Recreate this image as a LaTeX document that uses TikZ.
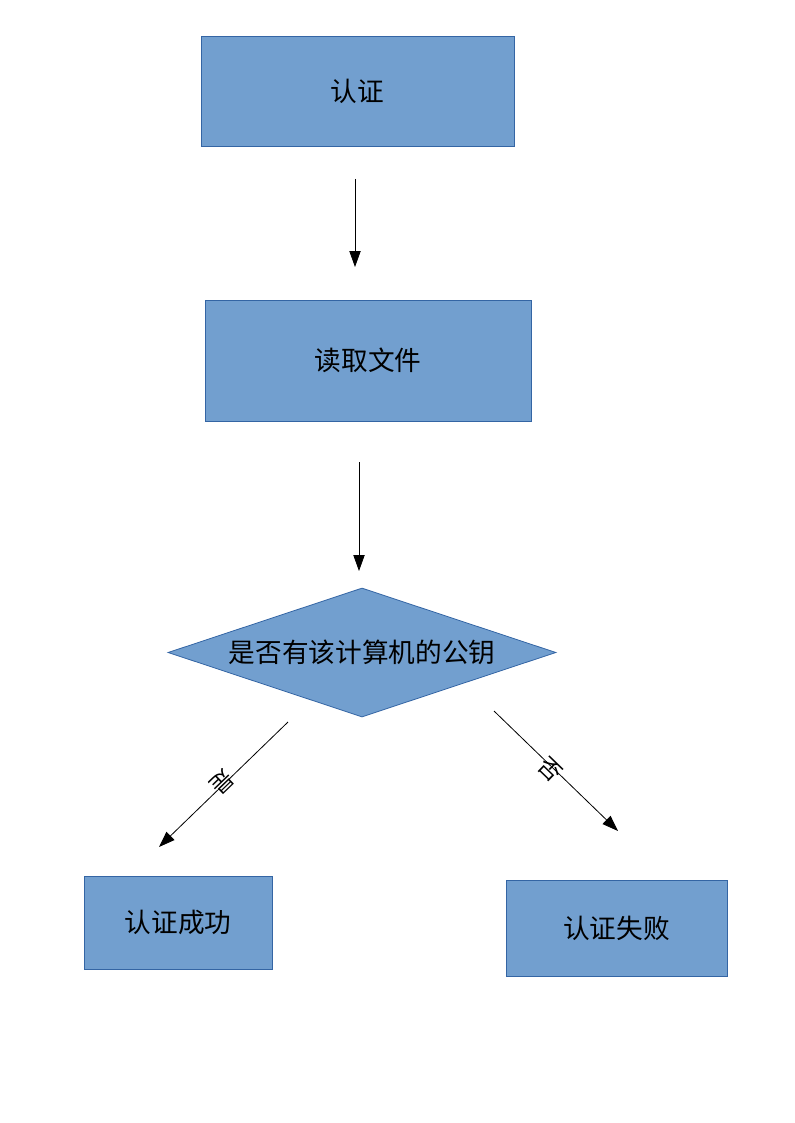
\documentclass[tikz,border=0pt]{standalone}
\usepackage{fontspec}
\setmainfont{Noto Sans CJK SC}
\usetikzlibrary{arrows.meta,shapes.geometric}
\definecolor{boxfill}{RGB}{114,159,207}
\definecolor{boxline}{RGB}{52,101,164}
\begin{document}
\begin{tikzpicture}[x=0.75pt,y=-0.75pt,
  box/.style={draw=boxline,fill=boxfill,line width=0.6pt,inner sep=0pt,
    font=\fontsize{20}{24}\selectfont},
  rbox/.style={box,rectangle},
  dbox/.style={box,diamond,aspect=3},
  conn/.style={draw=black,line width=0.6pt,-{Triangle[length=12pt,width=8.5pt]}},
  lbl/.style={font=\fontsize{17}{20}\selectfont,inner sep=0pt}]
\useasboundingbox (0,0) rectangle (794,1123);
% boxes
\node[rbox,minimum width=234.75pt,minimum height=82.5pt] (auth) at (357.5,91) {认证};
\node[rbox,minimum width=244.5pt,minimum height=90.75pt] (read) at (368,360.5) {读取文件};
\node[dbox,minimum width=291pt,minimum height=96.75pt] (dec) at (362,652.5) {是否有该计算机的公钥};
\node[rbox,minimum width=141pt,minimum height=69.75pt] (ok) at (178,922.5) {认证成功};
\node[rbox,minimum width=165.75pt,minimum height=72pt] (fail) at (616.5,928) {认证失败};
% connector end points
\coordinate (a1s) at (355,179);
\coordinate (a1e) at (355,267);
\coordinate (a2s) at (359,462);
\coordinate (a2e) at (359,571);
\coordinate (a3s) at (288,722);
\coordinate (a3e) at (159,847);
\coordinate (a4s) at (494,711);
\coordinate (a4e) at (618,831);
\draw[conn] (a1s) -- (a1e);
\draw[conn] (a2s) -- (a2e);
\draw[conn] (a3s) -- (a3e);
\draw[conn] (a4s) -- (a4e);
\node[lbl,rotate=224] (yes) at (222,782) {是};
\node[lbl,rotate=-44] (no) at (550,770) {否};
\end{tikzpicture}
\end{document}
